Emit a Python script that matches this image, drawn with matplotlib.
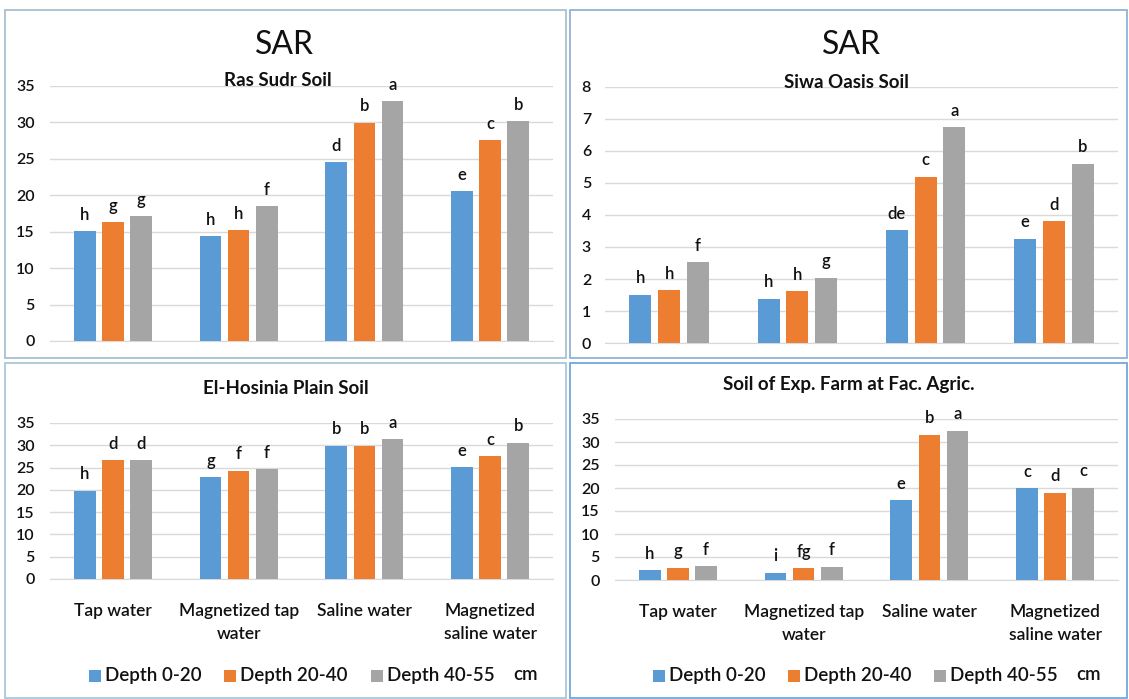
import numpy as np
import matplotlib
matplotlib.use('Agg')
import matplotlib.pyplot as plt
from matplotlib.patches import Rectangle

plt.rcParams['font.family'] = ['Lato', 'DejaVu Sans']

W, H = 1129, 699

categories = ['Tap water', 'Magnetized tap\nwater', 'Saline water', 'Magnetized\nsaline water']
series = ['Depth 0-20', 'Depth 20-40', 'Depth 40-55']
colors = ['#5b9bd5', '#ed7d31', '#a5a5a5']

ras_sudr = [[15.1, 14.4, 24.5, 20.6],
            [16.3, 15.2, 29.95, 27.6],
            [17.1, 18.5, 32.9, 30.2]]
ras_sudr_letters = [['h', 'h', 'd', 'e'], ['g', 'h', 'b', 'c'], ['g', 'f', 'a', 'b']]

siwa = [[1.51, 1.39, 3.52, 3.26],
        [1.65, 1.62, 5.2, 3.81],
        [2.53, 2.04, 6.75, 5.6]]
siwa_letters = [['h', 'h', 'de', 'e'], ['h', 'h', 'c', 'd'], ['f', 'g', 'a', 'b']]

hosinia = [[19.8, 22.9, 29.9, 25.1],
           [26.6, 24.3, 29.9, 27.5],
           [26.6, 24.6, 31.3, 30.6]]
hosinia_letters = [['h', 'g', 'b', 'e'], ['d', 'f', 'b', 'c'], ['d', 'f', 'a', 'b']]

farm = [[2.2, 1.6, 17.4, 20.0],
        [2.7, 2.6, 31.6, 19.0],
        [3.05, 2.9, 32.5, 20.1]]
farm_letters = [['h', 'i', 'e', 'c'], ['g', 'fg', 'b', 'd'], ['f', 'f', 'a', 'c']]

TXT = '#111111'


def box(x0, y0, x1, y1):
    return [x0 / W, 1 - y1 / H, (x1 - x0) / W, (y1 - y0) / H]


def panel(fig, x0, y0, x1, y1, color):
    fig.patches.append(Rectangle((x0 / W, 1 - y1 / H), (x1 - x0) / W, (y1 - y0) / H,
                                 transform=fig.transFigure, fill=False, edgecolor=color, lw=1.3))


def draw(fig, rect, values, letters, ymax, step, show_cats, ypad):
    ax = fig.add_axes(box(*rect))
    x = np.arange(len(categories))
    width = 0.172
    offs = 0.224
    for i in range(3):
        xs = x + (i - 1) * offs
        ax.bar(xs, values[i], width, color=colors[i], zorder=3)
        for j in range(len(x)):
            ax.annotate(letters[i][j], (xs[j], values[i][j]), xytext=(0, 6), textcoords='offset points',
                        ha='center', va='bottom', fontsize=12, fontweight='semibold', color=TXT)
    ax.set_xlim(-0.5, 3.5)
    ax.set_ylim(0, ymax)
    ax.set_yticks(np.arange(0, ymax + 0.01, step))
    ax.yaxis.grid(True, color='#d9d9d9', lw=1, zorder=0)
    for s in ['top', 'right', 'left']:
        ax.spines[s].set_visible(False)
    ax.spines['bottom'].set_color('#d9d9d9')
    ax.tick_params(axis='both', length=0, labelsize=11.5, labelcolor=TXT)
    ax.tick_params(axis='y', pad=ypad)
    for lab in ax.get_yticklabels():
        lab.set_fontweight('semibold')
    if show_cats:
        ax.set_xticks(x)
        ax.set_xticklabels(categories, fontsize=12.5, linespacing=1.55, fontweight='semibold')
        ax.tick_params(axis='x', pad=17)
    else:
        ax.set_xticks([])
    return ax


def legend(fig, xs, cmx, y):
    for c, name, x0 in zip(colors, series, xs):
        fig.patches.append(Rectangle((x0 / W, 1 - (y + 6) / H), 12 / W, 12 / H,
                                     transform=fig.transFigure, facecolor=c, edgecolor='none'))
        fig.text((x0 + 16) / W, 1 - y / H, name, fontsize=13.5, fontweight='semibold',
                 ha='left', va='center', color=TXT)
    fig.text(cmx / W, 1 - (y - 2) / H, 'cm', fontsize=13.5, fontweight='semibold',
             ha='center', va='center', color=TXT)


fig = plt.figure(figsize=(W / 100, H / 100), dpi=100)
fig.patch.set_facecolor('white')

panel(fig, 5, 10, 566, 358, '#a9bfcf')
panel(fig, 570, 10, 1127, 358, '#8fb3d6')
panel(fig, 5, 363, 566, 698, '#a9c8d8')
panel(fig, 570, 363, 1127, 698, '#6fa8dc')

draw(fig, (50, 86, 553, 341), ras_sudr, ras_sudr_letters, 35, 5, False, 11)
draw(fig, (605, 87, 1118, 343), siwa, siwa_letters, 8, 1, False, 10)
draw(fig, (50, 423, 553, 579), hosinia, hosinia_letters, 35, 5, True, 11)
draw(fig, (615, 419, 1118, 580), farm, farm_letters, 35, 5, True, 11)

fig.text(284 / W, 1 - 45 / H, 'SAR', fontsize=23, ha='center', va='center', color=TXT)
fig.text(851 / W, 1 - 45 / H, 'SAR', fontsize=23, ha='center', va='center', color=TXT)

subtitles = [('Ras Sudr Soil', 278, 80), ('Siwa Oasis Soil', 846, 82),
             ('El-Hosinia Plain Soil', 286, 389), ('Soil of Exp. Farm at Fac. Agric.', 849, 385)]
for t, cx, cy in subtitles:
    fig.text(cx / W, 1 - cy / H, t, fontsize=13.5, fontweight='bold', ha='center', va='center', color=TXT)

legend(fig, [89, 224, 371], 526, 676)
legend(fig, [653, 788, 934], 1089, 676)

fig.savefig('out.png', dpi=100)
